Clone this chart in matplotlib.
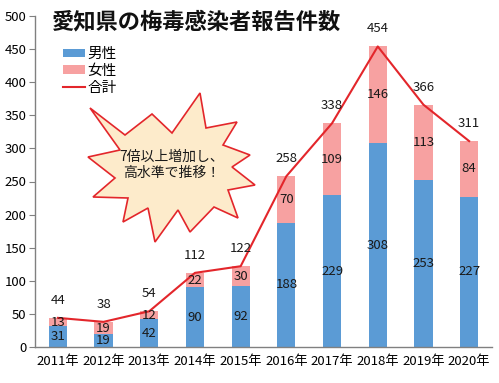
import matplotlib
matplotlib.use("Agg")
import matplotlib.pyplot as plt
from matplotlib.patches import Polygon
import numpy as np

plt.rcParams['font.family'] = ['Noto Sans CJK JP', 'DejaVu Sans']

years = ["2011年", "2012年", "2013年", "2014年", "2015年", "2016年", "2017年", "2018年", "2019年", "2020年"]
male = [31, 19, 42, 90, 92, 188, 229, 308, 253, 227]
female = [13, 19, 12, 22, 30, 70, 109, 146, 113, 84]
total = [44, 38, 54, 112, 122, 258, 338, 454, 366, 311]
title = "愛知県の梅毒感染者報告件数"
note = "7倍以上増加し、\n高水準で推移！"

W, H = 499, 383
fig = plt.figure(figsize=(W / 100, H / 100), dpi=100)
ax = fig.add_axes([35 / W, 1 - 347 / H, (492 - 35) / W, (347 - 16) / H])

x = np.arange(len(years))
blue = "#5B9BD5"
pink = "#F7A1A1"
red = "#E3262B"
txt = "#1a1a1a"

b1 = ax.bar(x, male, width=0.4, color=blue, label="男性", zorder=2)
b2 = ax.bar(x, female, width=0.4, bottom=male, color=pink, label="女性", zorder=2)
l1, = ax.plot(x, total, color=red, lw=1.5, label="合計", zorder=3)

for i in range(len(x)):
    ax.text(x[i], male[i] / 2, str(male[i]), ha="center", va="center", fontsize=9.5, color=txt, zorder=4)
    ax.text(x[i], male[i] + female[i] / 2, str(female[i]), ha="center", va="center", fontsize=9.5, color=txt, zorder=4)
    ax.annotate(str(total[i]), (x[i], total[i]), xytext=(0, 8), textcoords="offset points",
                ha="center", va="bottom", fontsize=9.5, color=txt, zorder=4)

ax.set_xlim(-0.5, 9.5)
ax.set_ylim(0, 500)
ax.set_yticks(range(0, 501, 50))
ax.set_xticks(x)
ax.set_xticklabels(years, fontsize=9.5)
ax.tick_params(axis="x", length=0, pad=6)
ax.tick_params(axis="y", length=4, labelsize=9.5, pad=2, direction="out", color="#808080")
for s in ["top", "right"]:
    ax.spines[s].set_visible(False)
for s in ["left", "bottom"]:
    ax.spines[s].set_color("#808080")
    ax.spines[s].set_linewidth(1.0)

fig.text(52 / W, 1 - 22 / H, title, fontsize=16, fontweight="bold", ha="left", va="center", color="#111111")

leg = ax.legend([b1, b2, l1], ["男性", "女性", "合計"], loc="upper left",
                bbox_to_anchor=(22 / (492 - 35), 1 - 25 / (347 - 16)),
                frameon=False, fontsize=10.5, handlelength=1.5, handleheight=0.5,
                handletextpad=0.2, labelspacing=0.2, borderaxespad=0)

# starburst callout
pts = [(90, 108), (125, 135), (152, 114), (172, 133), (200, 93), (206, 128), (237, 122),
       (223, 145), (250, 155), (232, 167), (255, 185), (228, 190), (238, 218), (214, 207),
       (190, 232), (178, 210), (155, 242), (148, 208), (123, 222), (128, 198), (93, 197),
       (115, 178), (88, 157), (120, 150)]
fpts = [(px / W, 1 - py / H) for px, py in pts]
star = Polygon(fpts, closed=True, transform=fig.transFigure, facecolor="#FDEBCB",
               edgecolor=red, lw=1.2, zorder=5)
fig.patches.append(star)
fig.text(172 / W, 1 - 165 / H, note, ha="center", va="center", fontsize=10,
         color=txt, linespacing=1.25, zorder=6)

fig.savefig("out.png", dpi=100)
